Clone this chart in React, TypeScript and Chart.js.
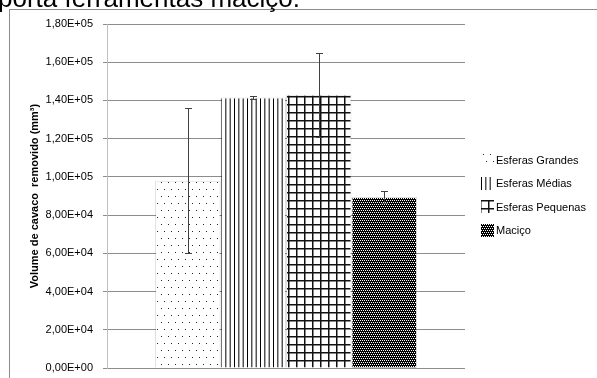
import React, { useEffect, useRef } from "react";
import { Chart, registerables } from "chart.js";

Chart.register(...registerables);

const categories = [""];
const seriesLabels = ["Esferas Grandes", "Esferas Médias", "Esferas Pequenas", "Maciço"];
const seriesValues = [98000, 141500, 143000, 89500];
const seriesErrors = [38000, 700, 22000, 3000];
const yMin = 0;
const yMax = 180000;
const yStep = 20000;
const yTitle = "Volume de cavaco  removido (mm³)";
const headerText = "porta ferramentas maciço.";

const FONT = "'Liberation Sans', Arial, sans-serif";

function makeTile(w: number, h: number, draw: (c: CanvasRenderingContext2D) => void) {
  const cv = document.createElement("canvas");
  cv.width = w;
  cv.height = h;
  const c = cv.getContext("2d")!;
  c.fillStyle = "#ffffff";
  c.fillRect(0, 0, w, h);
  draw(c);
  return cv;
}

function makePatterns(ctx: CanvasRenderingContext2D) {
  const dots = makeTile(7, 14, (c) => {
    c.fillStyle = "#222";
    c.fillRect(0, 0, 1, 1);
    c.fillRect(3, 7, 1, 1);
  });
  const vlines = makeTile(13, 4, (c) => {
    c.fillStyle = "#000";
    c.fillRect(0, 0, 1, 4);
    c.fillRect(4.33, 0, 1, 4);
    c.fillRect(8.67, 0, 1, 4);
  });
  const grid = makeTile(8, 8, (c) => {
    c.fillStyle = "#111";
    c.fillRect(0, 0, 8, 1.5);
    c.fillRect(0, 0, 1.5, 8);
  });
  const dense = makeTile(4, 4, (c) => {
    c.fillStyle = "#000";
    c.fillRect(0, 0, 4, 4);
    c.fillStyle = "#fff";
    c.fillRect(0, 0, 1, 1);
    c.fillRect(2, 0, 1, 1);
    c.fillRect(1, 2, 1, 1);
    c.fillRect(3, 2, 1, 1);
  });
  return [dots, vlines, grid, dense].map((t) => ctx.createPattern(t, "repeat")!);
}

function formatTick(v: number) {
  if (v === 0) return "0,00E+00";
  const exp = Math.floor(Math.log10(Math.abs(v)) + 1e-9);
  const mant = v / Math.pow(10, exp);
  const m = mant.toFixed(2).replace(".", ",");
  const e = (exp >= 0 ? "+" : "-") + String(Math.abs(exp)).padStart(2, "0");
  return m + "E" + e;
}

const framePlugin = {
  id: "frame",
  beforeDraw(chart: any) {
    const ctx = chart.ctx;
    ctx.save();
    ctx.fillStyle = "#fff";
    ctx.fillRect(0, 0, chart.width, chart.height);
    ctx.strokeStyle = "#8c8c8c";
    ctx.lineWidth = 1;
    ctx.strokeRect(9.5, 9.5, 1000, 1000);
    ctx.restore();
  },
};

const errorBarPlugin = {
  id: "errorBars",
  afterDatasetsDraw(chart: any) {
    const ctx = chart.ctx;
    const ys = chart.scales.y;
    ctx.save();
    ctx.strokeStyle = "#404040";
    ctx.lineWidth = 1;
    chart.data.datasets.forEach((ds: any, i: number) => {
      const meta = chart.getDatasetMeta(i);
      const el = meta.data[0];
      if (!el) return;
      const v = seriesValues[i];
      const e = seriesErrors[i];
      const x = Math.round(el.x) + 0.5;
      const top = Math.round(ys.getPixelForValue(v + e)) + 0.5;
      const bot = Math.round(ys.getPixelForValue(v - e)) + 0.5;
      ctx.beginPath();
      ctx.moveTo(x, top);
      ctx.lineTo(x, bot);
      ctx.moveTo(x - 3.5, top);
      ctx.lineTo(x + 3.5, top);
      ctx.moveTo(x - 3.5, bot);
      ctx.lineTo(x + 3.5, bot);
      ctx.stroke();
    });
    ctx.restore();
  },
};

const legendPlugin = {
  id: "customLegend",
  afterDraw(chart: any) {
    const ctx = chart.ctx;
    const boxX = 481;
    const textX = 496;
    const ys = [160, 183.5, 207, 230.5];
    ctx.save();
    ctx.font = `11px ${FONT}`;
    ctx.textBaseline = "middle";
    ctx.textAlign = "left";
    chart.data.datasets.forEach((ds: any, i: number) => {
      const cy = ys[i];
      ctx.fillStyle = ds.backgroundColor;
      ctx.fillRect(boxX, Math.round(cy - 7), 13, 13);
      ctx.fillStyle = "#000";
      ctx.fillText(ds.label, textX, cy + 0.5);
    });
    ctx.restore();
  },
};

export default function App() {
  const ref = useRef<HTMLCanvasElement | null>(null);

  useEffect(() => {
    const canvas = ref.current!;
    const ctx = canvas.getContext("2d")!;
    const patterns = makePatterns(ctx);
    const chart = new Chart(canvas, {
      type: "bar",
      data: {
        labels: categories,
        datasets: seriesLabels.map((label, i) => ({
          label,
          data: [seriesValues[i]],
          backgroundColor: patterns[i] as any,
          borderColor: "rgba(0,0,0,0.12)",
          borderWidth: 1,
          categoryPercentage: 0.732,
          barPercentage: 1,
        })),
      },
      options: {
        animation: false,
        responsive: false,
        devicePixelRatio: 1,
        layout: { padding: { left: 0, right: 132, top: 24, bottom: 10 } },
        plugins: {
          legend: { display: false },
          tooltip: { enabled: false },
        },
        scales: {
          x: {
            display: false,
          },
          y: {
            min: yMin,
            max: yMax,
            ticks: {
              stepSize: yStep,
              padding: 10,
              color: "#000",
              font: { family: FONT, size: 11 },
              callback: (v: any) => formatTick(Number(v)),
            },
            grid: { color: "#8c8c8c", tickLength: 4, lineWidth: 1 },
            border: { display: true, color: "#bfbfbf", width: 1 },
            title: {
              display: true,
              text: yTitle,
              color: "#000",
              font: { family: FONT, size: 11, weight: "bold" },
              padding: { top: 28, bottom: 0 },
            },
            afterFit: (s: any) => {
              s.width = 107;
              s.paddingTop = 0;
              s.paddingBottom = 0;
            },
          },
        },
      },
      plugins: [framePlugin, errorBarPlugin, legendPlugin],
    });
    return () => chart.destroy();
  }, []);

  return (
    <div
      style={{
        position: "fixed",
        left: 0,
        top: 0,
        width: 597,
        height: 378,
        background: "#fff",
        overflow: "hidden",
      }}
    >
      <canvas ref={ref} width={597} height={378} style={{ position: "absolute", left: 0, top: 0 }} />
      <div
        style={{
          position: "absolute",
          left: -2,
          top: -15.5,
          fontFamily: FONT,
          fontSize: 26,
          lineHeight: "26px",
          color: "#000",
          whiteSpace: "nowrap",
        }}
      >
        {headerText}
      </div>
    </div>
  );
}
